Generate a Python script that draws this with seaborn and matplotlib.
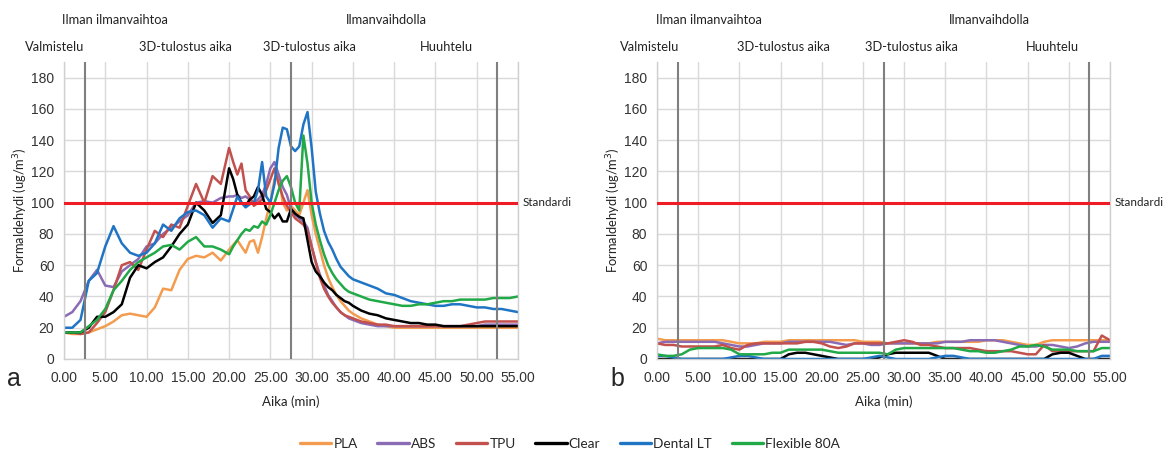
import numpy as np
import pandas as pd
import matplotlib
matplotlib.use('Agg')
import matplotlib.pyplot as plt
import matplotlib.transforms as mtransforms
from matplotlib.lines import Line2D
import seaborn as sns

sns.set_style('whitegrid')
plt.rcParams['font.family'] = ['Lato', 'DejaVu Sans']

materials = ['PLA', 'ABS', 'TPU', 'Clear', 'Dental LT', 'Flexible 80A']
colors = ['#F39C4F', '#8A6BB5', '#C2504D', '#000000', '#1F74C4', '#22A947']

# panel a: 1 min steps, 0.5 min steps around the peaks (20.5-35)
time_a = np.concatenate([np.arange(0, 20.5, 1), np.arange(20.5, 35.5, 0.5), np.arange(36, 56, 1)])

pla_a = [17, 16, 16, 17, 19, 21, 24, 28, 29, 28, 27, 33, 45, 44, 57, 64, 66, 65, 68, 63, 70,
         73, 76, 72, 68, 75, 76, 68, 78, 90, 100, 115, 118, 100, 95, 98, 95, 92, 100, 108, 92,
         80, 70, 60, 52, 46, 41, 37, 34, 31, 29,
         26, 24, 22, 21, 20, 20, 20, 20, 20, 20, 20, 20, 20, 20, 20, 20, 20, 20, 20, 20]
abs_a = [27, 30, 37, 50, 57, 47, 46, 56, 60, 64, 72, 74, 80, 84, 88, 92, 100, 101, 100, 103, 104,
         104, 105, 103, 104, 102, 100, 102, 105, 112, 122, 126, 118, 110, 105, 96, 92, 90, 88, 84, 72,
         62, 54, 47, 41, 37, 33, 30, 28, 26, 25,
         23, 22, 21, 21, 21, 21, 21, 21, 21, 21, 21, 21, 21, 21, 21, 22, 22, 22, 22, 22]
tpu_a = [17, 17, 16, 17, 23, 30, 44, 60, 62, 57, 70, 82, 78, 86, 84, 98, 112, 100, 117, 112, 135,
         126, 118, 125, 108, 104, 98, 100, 102, 108, 115, 122, 112, 104, 98, 94, 90, 88, 86, 82, 72,
         62, 52, 45, 40, 36, 33, 30, 28, 27, 26,
         24, 23, 22, 22, 21, 21, 21, 21, 21, 21, 21, 21, 21, 22, 23, 24, 24, 24, 24, 24]
clear_a = [17, 17, 17, 20, 27, 27, 30, 35, 52, 60, 58, 62, 65, 72, 80, 86, 100, 95, 87, 92, 122,
           115, 105, 100, 98, 102, 104, 110, 105, 96, 94, 90, 93, 88, 88, 96, 93, 91, 90, 76, 62,
           56, 53, 49, 46, 44, 41, 39, 37, 36, 34,
           31, 29, 28, 26, 25, 24, 23, 23, 22, 22, 21, 21, 21, 21, 21, 21, 21, 21, 21, 21]
dental_a = [20, 20, 25, 50, 55, 72, 85, 74, 68, 66, 68, 74, 86, 82, 90, 94, 95, 92, 84, 90, 88,
            96, 104, 100, 97, 99, 100, 108, 126, 104, 100, 112, 135, 148, 147, 136, 133, 136, 150, 158, 135,
            107, 93, 82, 75, 70, 64, 59, 56, 53, 51,
            49, 47, 45, 42, 41, 39, 37, 36, 35, 34, 34, 35, 35, 34, 33, 33, 32, 32, 31, 30]
flex_a = [17, 17, 17, 21, 25, 32, 44, 50, 57, 62, 65, 68, 72, 73, 70, 75, 78, 72, 72, 70, 67,
          72, 76, 80, 83, 82, 85, 84, 88, 86, 92, 100, 108, 114, 117, 110, 100, 95, 143, 125, 100,
          86, 76, 67, 60, 55, 51, 48, 45, 43, 42,
          40, 38, 37, 36, 35, 34, 34, 35, 35, 36, 37, 37, 38, 38, 38, 38, 39, 39, 39, 40]

# panel b: 1 min steps
time_b = np.arange(0, 56, 1)

pla_b = [13, 12, 12, 12, 12, 12, 12, 12, 12, 11,
         10, 10, 10, 11, 11, 11, 12, 12, 12, 12,
         12, 12, 12, 12, 12, 11, 11, 11, 10, 10,
         10, 10, 10, 10, 11, 11, 11, 11, 11, 11,
         12, 12, 12, 11, 10, 9, 9, 11, 12, 12,
         12, 12, 12, 12, 12, 12]
abs_b = [10, 11, 11, 11, 11, 11, 11, 11, 10, 9,
         8, 8, 9, 10, 10, 10, 11, 11, 11, 11,
         11, 11, 10, 9, 10, 10, 9, 9, 10, 10,
         10, 10, 10, 10, 10, 11, 11, 11, 12, 12,
         12, 12, 11, 10, 9, 8, 8, 9, 9, 8,
         7, 8, 10, 11, 11, 11]
tpu_b = [10, 9, 9, 8, 8, 8, 8, 8, 9, 7,
         6, 9, 10, 10, 10, 10, 10, 10, 11, 11,
         10, 8, 7, 8, 10, 10, 10, 10, 10, 11,
         12, 11, 9, 9, 8, 7, 7, 7, 7, 6,
         5, 5, 5, 5, 4, 3, 3, 9, 5, 5,
         5, 5, 5, 5, 15, 12]
clear_b = [0, 0, 0, 0, 0, 0, 0, 0, 0, 0,
           0, 0, 0, 0, 0, 0, 3, 4, 4, 3,
           2, 1, 0, 0, 0, 0, 0, 1, 3, 4,
           4, 4, 4, 4, 2, 0, 0, 0, 0, 0,
           0, 0, 0, 0, 0, 0, 0, 0, 3, 4,
           4, 2, 0, 0, 0, 0]
dental_b = [2, 2, 1, 0, 0, 0, 0, 0, 0, 1,
            2, 2, 1, 0, 0, 0, 0, 0, 0, 0,
            0, 0, 0, 0, 0, 0, 1, 2, 1, 0,
            0, 0, 0, 0, 1, 2, 2, 1, 0, 0,
            0, 0, 0, 0, 0, 0, 0, 0, 0, 0,
            0, 0, 0, 0, 2, 2]
flex_b = [3, 2, 2, 3, 6, 7, 7, 7, 7, 6,
          3, 3, 3, 3, 4, 4, 6, 6, 6, 6,
          6, 5, 4, 4, 4, 4, 4, 4, 3, 6,
          7, 7, 7, 7, 7, 7, 7, 6, 5, 5,
          4, 4, 5, 6, 8, 8, 9, 8, 6, 6,
          6, 5, 5, 5, 7, 7]

phase_lines = [2.5, 27.5, 52.5]
standard = 100


def long_df(t, series):
    frames = []
    for name, vals in zip(materials, series):
        frames.append(pd.DataFrame({'Aika': t, 'Formaldehydi': vals, 'Materiaali': name}))
    return pd.concat(frames, ignore_index=True)


df_a = long_df(time_a, [pla_a, abs_a, tpu_a, clear_a, dental_a, flex_a])
df_b = long_df(time_b, [pla_b, abs_b, tpu_b, clear_b, dental_b, flex_b])
palette = dict(zip(materials, colors))

W, H = 1165, 455
fig = plt.figure(figsize=(W / 100, H / 100), dpi=100)
ax_a = fig.add_axes([64 / W, 1 - 359 / H, 454 / W, 297 / H])
ax_b = fig.add_axes([657 / W, 1 - 359 / H, 453 / W, 297 / H])

# x positions (data units) of the texts above each panel
top_texts = {
    'a': [6.2, 39.1, -1.1, 14.7, 29.7, 46.3],
    'b': [6.3, 40.4, -0.85, 15.4, 30.9, 48.0],
}
labels_top = ['Ilman ilmanvaihtoa', 'Ilmanvaihdolla', 'Valmistelu',
              '3D-tulostus aika', '3D-tulostus aika', 'Huuhtelu']

for key, ax, df in [('a', ax_a, df_a), ('b', ax_b, df_b)]:
    sns.lineplot(data=df, x='Aika', y='Formaldehydi', hue='Materiaali', hue_order=materials,
                 palette=palette, linewidth=1.8, ax=ax, legend=False, estimator=None)
    ax.axhline(standard, color='#EE1C25', lw=2.2, zorder=5)
    for v in phase_lines:
        ax.axvline(v, color='#7F7F7F', lw=1.5, zorder=4)
    ax.set_xlim(0, 55)
    ax.set_ylim(0, 190)
    ax.set_xticks(np.arange(0, 56, 5))
    ax.set_xticklabels([f'{v:.2f}' for v in np.arange(0, 56, 5)], family='Liberation Sans')
    ax.set_yticks(np.arange(0, 181, 20))
    ax.set_yticklabels([str(v) for v in range(0, 181, 20)], family='Liberation Sans')
    ax.tick_params(axis='x', length=0, labelsize=10, pad=9, labelcolor='#333333')
    ax.tick_params(axis='y', length=0, labelsize=10, pad=7, labelcolor='#333333')
    ax.grid(color='#D9D9D9', lw=1)
    ax.set_xlabel('')
    ax.set_ylabel('')
    for s in ['left', 'right', 'bottom']:
        ax.spines[s].set_color('#D0D0D0')
        ax.spines[s].set_linewidth(1)
    ax.spines['top'].set_visible(False)
    ax.text(55.5, standard, 'Standardi', va='center', ha='left', fontsize=8.4, color='#222222')
    trans = mtransforms.blended_transform_factory(ax.transData, ax.transAxes)
    for i, (xp, txt) in enumerate(zip(top_texts[key], labels_top)):
        yp = 1.141 if i < 2 else 1.05
        ax.text(xp, yp, txt, transform=trans, ha='center', va='center', fontsize=9.3,
                color='#222222', clip_on=False)

fig.text(21 / W, 1 - 210 / H, 'Formaldehydi (ug/m$^3$)', rotation=90, ha='center', va='center',
         fontsize=9.3, color='#222222')
fig.text(614 / W, 1 - 210 / H, 'Formaldehydi (ug/m$^3$)', rotation=90, ha='center', va='center',
         fontsize=9.3, color='#222222')
fig.text(291 / W, 1 - 402 / H, 'Aika (min)', ha='center', va='center', fontsize=9.5, color='#222222')
fig.text(884 / W, 1 - 402 / H, 'Aika (min)', ha='center', va='center', fontsize=9.5, color='#222222')
fig.text(14 / W, 1 - 379 / H, 'a', ha='center', va='center', fontsize=18, family='Liberation Sans')
fig.text(617 / W, 1 - 379 / H, 'b', ha='center', va='center', fontsize=18, family='Liberation Sans')

handles = [Line2D([0], [0], color=c, lw=2.4) for c in colors]
fig.legend(handles, materials, loc='center', bbox_to_anchor=(570 / W, 1 - 444 / H), ncol=6,
           frameon=False, fontsize=9.8, handlelength=2.3, handletextpad=0.15, columnspacing=1.45)

fig.savefig('out.png', dpi=100)
